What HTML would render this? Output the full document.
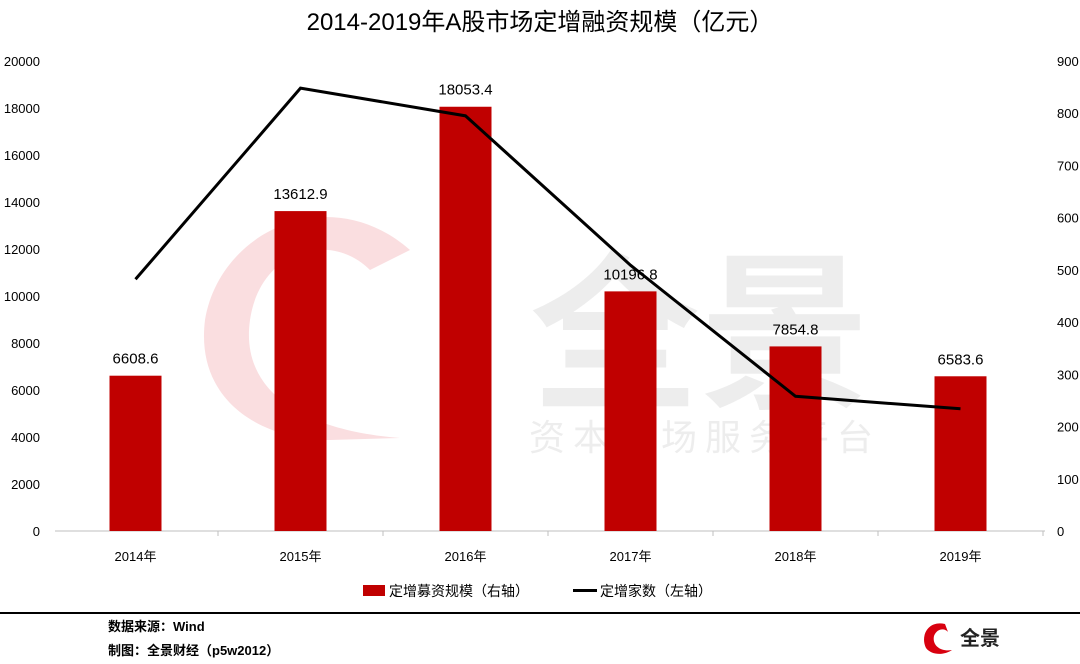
<!DOCTYPE html>
<html><head><meta charset="utf-8"><style>
body{margin:0;background:#fff;}
svg{display:block;font-family:"Liberation Sans","Noto Sans CJK SC",sans-serif;}
</style></head><body>
<svg id="c" width="1080" height="664" viewBox="0 0 1080 664">
<text x="540" y="30" text-anchor="middle" font-size="24" fill="#000">2014-2019年A股市场定增融资规模（亿元）</text>
<g opacity="0.9">
<path d="M410,250 C330,180 220,230 205,320 C195,400 260,440 330,440 L400,438 C300,430 240,390 250,320 C260,250 330,230 370,270 Z" fill="#fadadd"/>
<text x="700" y="395" text-anchor="middle" font-size="170" fill="#ececec" font-weight="bold">全景</text>
<text x="705" y="450" text-anchor="middle" font-size="36" fill="#ececec" letter-spacing="8">资本市场服务平台</text>
</g>
<g id="axes"></g><g id="bars"></g><g id="line"></g><g id="labels"></g>
<g>
<rect x="363" y="585" width="22" height="11" fill="#c00000"/>
<text x="389" y="596" font-size="14">定增募资规模（右轴）</text>
<rect x="573" y="589" width="24" height="3" fill="#000"/>
<text x="600" y="596" font-size="14">定增家数（左轴）</text>
</g>
<line x1="0" y1="613" x2="1080" y2="613" stroke="#000" stroke-width="2"/>
<text x="108" y="631" font-size="13" font-weight="bold">数据来源：Wind</text>
<text x="108" y="655" font-size="13" font-weight="bold">制图：全景财经（p5w2012）</text>
<g>
<path d="M945,624 C928,620 920,636 926,648 C932,656 945,655 952,650 C940,652 932,645 934,636 C937,628 945,628 948,632 Z" fill="#d8000f"/>
<text x="960" y="645" font-size="20" font-weight="bold" fill="#222">全景</text>
</g>
</svg>
<script>
const categories=["2014年","2015年","2016年","2017年","2018年","2019年"];
const barValues=[6608.6,13612.9,18053.4,10196.8,7854.8,6583.6];
const lineValues=[482,848,795,509,258,234];
const leftTicks=[0,2000,4000,6000,8000,10000,12000,14000,16000,18000,20000];
const rightTicks=[0,100,200,300,400,500,600,700,800,900];
const NS="http://www.w3.org/2000/svg";
const x0=53,x1=1043,yB=531,yT=61;
const yL=v=>yB-(v/20000)*(yB-yT);
const yR=v=>yB-(v/900)*(yB-yT);
const band=(x1-x0)/categories.length;
const xC=i=>x0+band*(i+0.5);
function mk(tag,attrs,parent){const e=document.createElementNS(NS,tag);for(const k in attrs)e.setAttribute(k,attrs[k]);parent.appendChild(e);return e;}
const ax=document.getElementById('axes');
const base=mk('line',{x1:55,y1:yB,x2:1045,y2:yB,stroke:'#bfbfbf'},ax);


leftTicks.forEach(t=>{const e=mk('text',{x:40,y:yL(t)+5,'text-anchor':'end','font-size':13},ax);e.textContent=t;

});
rightTicks.forEach(t=>{const e=mk('text',{x:1057,y:yR(t)+5,'font-size':13},ax);e.textContent=t;

});
categories.forEach((c,i)=>{
const tk=mk('line',{x1:x0+band*(i+1),y1:yB,x2:x0+band*(i+1),y2:yB+5,stroke:'#bfbfbf'},ax);


const e=mk('text',{x:xC(i),y:yB+30,'text-anchor':'middle','font-size':13},ax);e.textContent=c;

});
const bg=document.getElementById('bars'),lg=document.getElementById('labels');
barValues.forEach((v,i)=>{
const r=mk('rect',{x:xC(i)-26,y:yL(v),width:52,height:yB-yL(v),fill:'#c00000'},bg);


const t=mk('text',{x:xC(i),y:yL(v)-12,'text-anchor':'middle','font-size':15},lg);t.textContent=v.toFixed(1);

});
const pl=mk('polyline',{points:lineValues.map((v,i)=>xC(i)+','+yR(v)).join(' '),fill:'none',stroke:'#000','stroke-width':3},document.getElementById('line'));


</script>
</body></html>
